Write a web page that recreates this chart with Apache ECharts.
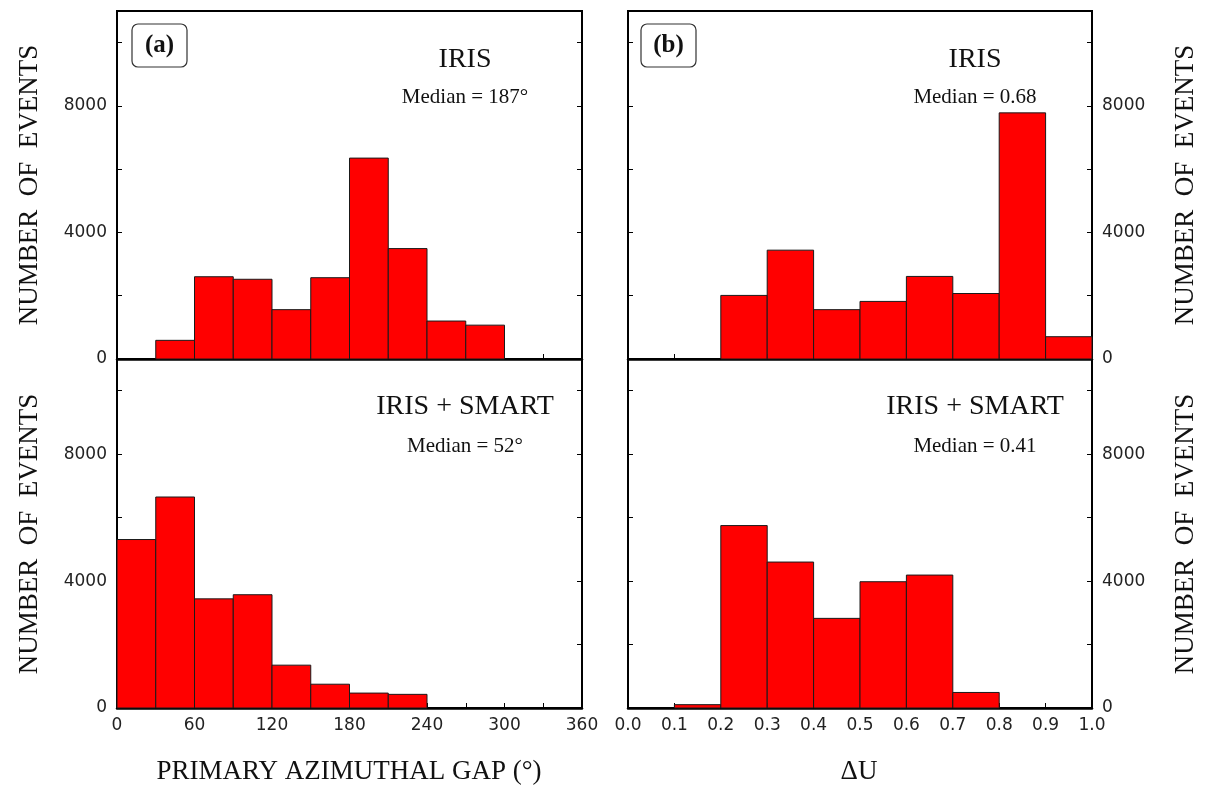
<!DOCTYPE html>
<html>
<head>
<meta charset="utf-8">
<script src="https://cdn.jsdelivr.net/npm/echarts@6/dist/echarts.min.js"></script>
<style>
  html, body { margin: 0; padding: 0; background: #fff; }
  #chart { width: 1207px; height: 787px; }
</style>
</head>
<body>
<div id="chart"></div>
<script>
// ---- data ----
const azEdges = [0, 30, 60, 90, 120, 150, 180, 210, 240, 270, 300, 330, 360];
const azIris  = [0, 590, 2600, 2520, 1560, 2570, 6350, 3490, 1200, 1070, 0, 0];
const azSmart = [5310, 6650, 3440, 3570, 1350, 750, 470, 430, 0, 0, 0, 0];
const duEdges = [0.0, 0.1, 0.2, 0.3, 0.4, 0.5, 0.6, 0.7, 0.8, 0.9, 1.0];
const duIris  = [0, 0, 2010, 3440, 1560, 1820, 2610, 2070, 7780, 705];
const duSmart = [0, 105, 5750, 4600, 2825, 3980, 4190, 490, 0, 0];
const yTickLabels = [0, 4000, 8000];
const azTickLabels = [0, 60, 120, 180, 240, 300, 360];
const duTickLabels = ['0.0','0.1','0.2','0.3','0.4','0.5','0.6','0.7','0.8','0.9','1.0'];
const yTitle = 'NUMBER  OF  EVENTS';
const azTitle = 'PRIMARY AZIMUTHAL GAP (\u00B0)';
const duTitle = '\u0394U';
const panelTexts = [
  {title: 'IRIS', median: 'Median = 187\u00B0'},
  {title: 'IRIS + SMART', median: 'Median = 52\u00B0'},
  {title: 'IRIS', median: 'Median = 0.68'},
  {title: 'IRIS + SMART', median: 'Median = 0.41'}
];

function bins(edges, counts) {
  return counts.map((c, i) => [edges[i], edges[i + 1], c]);
}

const TICK_FONT = 'DejaVu Sans';
const SERIF = 'Liberation Serif';
const YMAX = 11000;

const grids = [
  {left: 117, top: 11, width: 465, height: 348},
  {left: 117, top: 359, width: 465, height: 349},
  {left: 628, top: 11, width: 464, height: 348},
  {left: 628, top: 359, width: 464, height: 349}
];

const gridOpts = grids.map(g => Object.assign({show: true, borderColor: '#000', borderWidth: 2, backgroundColor: 'transparent'}, g));

function xAxisOf(gi, isAz, showLabels) {
  return {
    type: 'value', gridIndex: gi,
    min: 0, max: isAz ? 360 : 1,
    interval: isAz ? 30 : 0.1,
    axisLine: {show: true, lineStyle: {color: '#000', width: 2.5}},
    axisTick: {show: true, inside: true, length: 5, lineStyle: {color: '#000', width: 1}},
    splitLine: {show: false},
    axisLabel: {
      show: showLabels, margin: 9, fontFamily: TICK_FONT, fontSize: 17, color: '#222',
      formatter: function (v) {
        if (isAz) { return azTickLabels.indexOf(Math.round(v)) >= 0 ? String(Math.round(v)) : ''; }
        const s = (Math.round(v * 10) / 10).toFixed(1);
        return duTickLabels.indexOf(s) >= 0 ? s : '';
      }
    }
  };
}

function yAxisOf(gi, position, showLabels) {
  return {
    type: 'value', gridIndex: gi, position: position,
    min: 0, max: YMAX, interval: 2000,
    axisLine: {show: true, onZero: false, lineStyle: {color: '#000', width: 2}},
    axisTick: {show: true, inside: true, length: 5, lineStyle: {color: '#000', width: 1}},
    splitLine: {show: false},
    axisLabel: {
      show: showLabels, margin: 10, fontFamily: TICK_FONT, fontSize: 17, color: '#222',
      showMaxLabel: false,
      formatter: function (v) { return yTickLabels.indexOf(v) >= 0 ? String(v) : ''; }
    }
  };
}

const xAxes = [
  xAxisOf(0, true, false),
  xAxisOf(1, true, true),
  xAxisOf(2, false, false),
  xAxisOf(3, false, true)
];
// y axes: labelled side + tick-only opposite side for each panel
const yAxes = [
  yAxisOf(0, 'left', true),  yAxisOf(0, 'right', false),
  yAxisOf(1, 'left', true),  yAxisOf(1, 'right', false),
  yAxisOf(2, 'right', true), yAxisOf(2, 'left', false),
  yAxisOf(3, 'right', true), yAxisOf(3, 'left', false)
];

function renderHist(params, api) {
  const v = api.value(2);
  if (!(v > 0)) return null;
  const p0 = api.coord([api.value(0), v]);
  const p1 = api.coord([api.value(1), 0]);
  return {
    type: 'rect',
    shape: {x: p0[0], y: p0[1], width: p1[0] - p0[0], height: p1[1] - p0[1]},
    style: {fill: '#ff0000', stroke: '#1a1a1a', lineWidth: 1}
  };
}

const seriesData = [bins(azEdges, azIris), bins(azEdges, azSmart), bins(duEdges, duIris), bins(duEdges, duSmart)];
const series = seriesData.map((d, i) => ({
  type: 'custom', xAxisIndex: i, yAxisIndex: i * 2,
  renderItem: renderHist, encode: {x: [0, 1], y: 2}, data: d, z: 3, clip: false
}));

function txt(text, x, y, font, opts) {
  return Object.assign({
    type: 'text', x: x, y: y, z: 10,
    style: {text: text, font: font, fill: '#111', align: 'center', verticalAlign: 'middle', textAlign: 'center', textVerticalAlign: 'middle'}
  }, opts || {});
}

const graphics = [];
// panel label boxes
[[132, '(a)'], [641, '(b)']].forEach(([bx, lab]) => {
  graphics.push({type: 'rect', z: 9, shape: {x: bx, y: 24, width: 55, height: 43, r: 6}, style: {fill: '#fff', stroke: '#333', lineWidth: 1.2}});
  graphics.push(txt(lab, bx + 27.5, 45.5, 'bold 25px "' + SERIF + '"'));
});
// panel texts
const textCenters = [[465, 60, 97], [465, 407, 446], [975, 60, 97], [975, 407, 446]];
panelTexts.forEach((t, i) => {
  const c = textCenters[i];
  graphics.push(txt(t.title, c[0], c[1], '28px "' + SERIF + '"'));
  graphics.push(txt(t.median, c[0], c[2], '21px "' + SERIF + '"'));
});
// y titles (rotated)
[[30, 185], [30, 534], [1186, 185], [1186, 534]].forEach(([x, y]) => {
  graphics.push(Object.assign(txt(yTitle, x, y, '27px "' + SERIF + '"'), {rotation: Math.PI / 2}));
});
// x titles
graphics.push(txt(azTitle, 349, 772, '27px "' + SERIF + '"'));
graphics.push(txt(duTitle, 859, 772, '27px "' + SERIF + '"'));

const chart = echarts.init(document.getElementById('chart'), null, {renderer: 'canvas'});
chart.setOption({
  animation: false,
  backgroundColor: '#fff',
  grid: gridOpts,
  xAxis: xAxes,
  yAxis: yAxes,
  series: series,
  graphic: graphics
});
</script>
</body>
</html>
